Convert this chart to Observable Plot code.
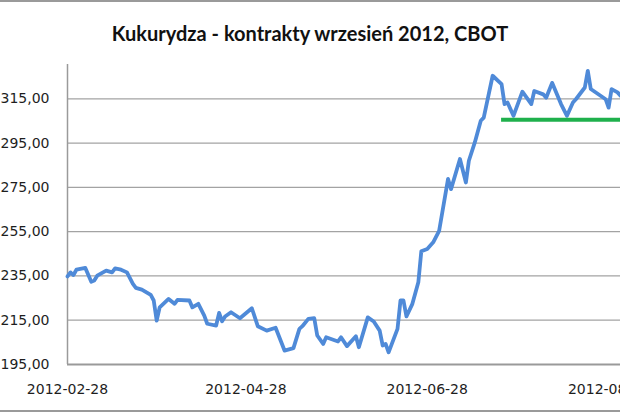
<!DOCTYPE html>
<html>
<head>
<meta charset="utf-8">
<script src="https://cdn.jsdelivr.net/npm/d3@7"></script>
<script src="https://cdn.jsdelivr.net/npm/@observablehq/plot@0.6"></script>
<style>
  html, body { margin: 0; padding: 0; background: #fff; }
  #wrap { position: relative; width: 620px; height: 413px; overflow: hidden; background: #fff; }
  #title { position: absolute; left: 0; top: 21px; width: 620px; height: 24px; line-height: 24px;
           text-align: center; font-family: Lato, "Open Sans", sans-serif; font-weight: 700; font-size: 20px; color: #111; }
  .edge { position: absolute; left: 0; width: 620px; height: 2px; background: #9a9a9a; }
  #chart svg { position: absolute; left: 0; top: 0; }
</style>
</head>
<body>
<div id="wrap">
  <div class="edge" style="top:0"></div>
  <div id="title">Kukurydza - kontrakty wrzesień 2012, CBOT</div>
  <div id="chart"></div>
  <div class="edge" style="top:410px"></div>
</div>
<script>
const dates = [
  "2012-02-28","2012-02-29","2012-03-01","2012-03-02","2012-03-05","2012-03-07","2012-03-08","2012-03-09",
  "2012-03-12","2012-03-14","2012-03-15","2012-03-17","2012-03-19","2012-03-21","2012-03-22","2012-03-24",
  "2012-03-27","2012-03-28","2012-03-29","2012-03-30","2012-04-02","2012-04-04","2012-04-05","2012-04-09",
  "2012-04-10","2012-04-12","2012-04-14","2012-04-15","2012-04-18","2012-04-19","2012-04-20","2012-04-21",
  "2012-04-23","2012-04-26","2012-04-30","2012-05-02","2012-05-05","2012-05-08","2012-05-11","2012-05-14",
  "2012-05-16","2012-05-17","2012-05-19","2012-05-21","2012-05-22","2012-05-24","2012-05-25","2012-05-29",
  "2012-05-30","2012-06-01","2012-06-04","2012-06-05","2012-06-08","2012-06-10","2012-06-12","2012-06-13",
  "2012-06-14","2012-06-15","2012-06-18","2012-06-19","2012-06-20","2012-06-21","2012-06-23","2012-06-25",
  "2012-06-26","2012-06-28","2012-06-30","2012-07-02","2012-07-05","2012-07-06","2012-07-09","2012-07-11",
  "2012-07-12","2012-07-14","2012-07-16","2012-07-17","2012-07-20","2012-07-23","2012-07-24","2012-07-25",
  "2012-07-27","2012-07-30","2012-08-02","2012-08-03","2012-08-06","2012-08-07","2012-08-09","2012-08-12",
  "2012-08-14","2012-08-16","2012-08-17","2012-08-20","2012-08-21","2012-08-22","2012-08-27","2012-08-28",
  "2012-08-29","2012-08-31","2012-09-01"
];
const prices = [
  234.8,236.6,235.4,237.8,238.6,232.4,232.9,235.1,
  237.4,236.6,238.4,237.8,236.6,231.4,229.6,228.8,
  226.4,223.9,214.8,220.8,224.6,222.4,224.2,223.9,
  220.8,222.4,217.1,213.4,212.6,218.3,214.5,216.7,
  218.6,215.9,220.4,212.3,210.3,211.6,201.3,202.4,
  211.1,212.3,215.6,215.9,208.1,204.3,207.3,205.4,
  207.3,203.3,207.8,202.8,216.3,214.4,210.3,203.6,
  204.3,200.5,211.1,223.9,223.9,216.7,222.4,232.1,
  246.1,247.2,250.2,255.4,278.8,274.2,287.8,277.2,
  287.0,295.3,305.1,306.5,325.4,321.6,312.6,313.3,
  307.3,318.2,312.6,318.5,317.0,315.5,322.2,312.6,
  307.3,313.3,314.8,320.1,327.6,319.4,314.8,311.0,
  319.4,317.9,316.4
];
const levelValue = [305.5];
const levelStart = ["2012-07-23"];
const levelEnd = ["2012-09-01"];
const yTicks = [195, 215, 235, 255, 275, 295, 315];
const xTicks = ["2012-02-28", "2012-04-28", "2012-06-28", "2012-08-28"];
const xDomain = ["2012-02-28", "2012-09-01"];
const yDomain = [195, 335];
const yAxisTop = 330.5;

const series = dates.map((d, i) => ({date: new Date(d), price: prices[i]}));
const level = levelValue.map((v, i) => ({v, start: new Date(levelStart[i]), end: new Date(levelEnd[i])}));
const fmtY = d => d.toFixed(2).replace(".", ",");

const chart = Plot.plot({
  width: 620,
  height: 413,
  marginLeft: 67,
  marginRight: 0,
  marginTop: 54,
  marginBottom: 49,
  style: {fontFamily: "'DejaVu Sans', sans-serif", fontSize: "14px", color: "#1e1e1e", background: "transparent", overflow: "visible"},
  x: {type: "utc", domain: xDomain.map(d => new Date(d)), ticks: xTicks.map(d => new Date(d)),
      tickFormat: d3.utcFormat("%Y-%m-%d"), tickSize: 0, tickPadding: 20, label: null},
  y: {domain: yDomain, ticks: yTicks, tickFormat: fmtY, tickSize: 0, tickPadding: 18, label: null},
  marks: [
    Plot.ruleY(yTicks.slice(1), {stroke: "#a3a3a3", strokeWidth: 1.2, strokeOpacity: 1}),
    Plot.ruleY([yTicks[0]], {stroke: "#9a9a9a", strokeWidth: 2, strokeOpacity: 1}),
    Plot.ruleX([new Date(xDomain[0])], {y1: yTicks[0], y2: yAxisTop, stroke: "#9a9a9a", strokeWidth: 1.5, strokeOpacity: 1}),
    Plot.lineY(series, {x: "date", y: "price", stroke: "#4f8ad8", strokeWidth: 3.8, strokeLinejoin: "round", strokeLinecap: "round"}),
    Plot.ruleY(level, {y: "v", x1: "start", x2: "end", stroke: "#1fb04c", strokeWidth: 4, strokeOpacity: 1})
  ]
});
document.getElementById("chart").appendChild(chart);
</script>
</body>
</html>
